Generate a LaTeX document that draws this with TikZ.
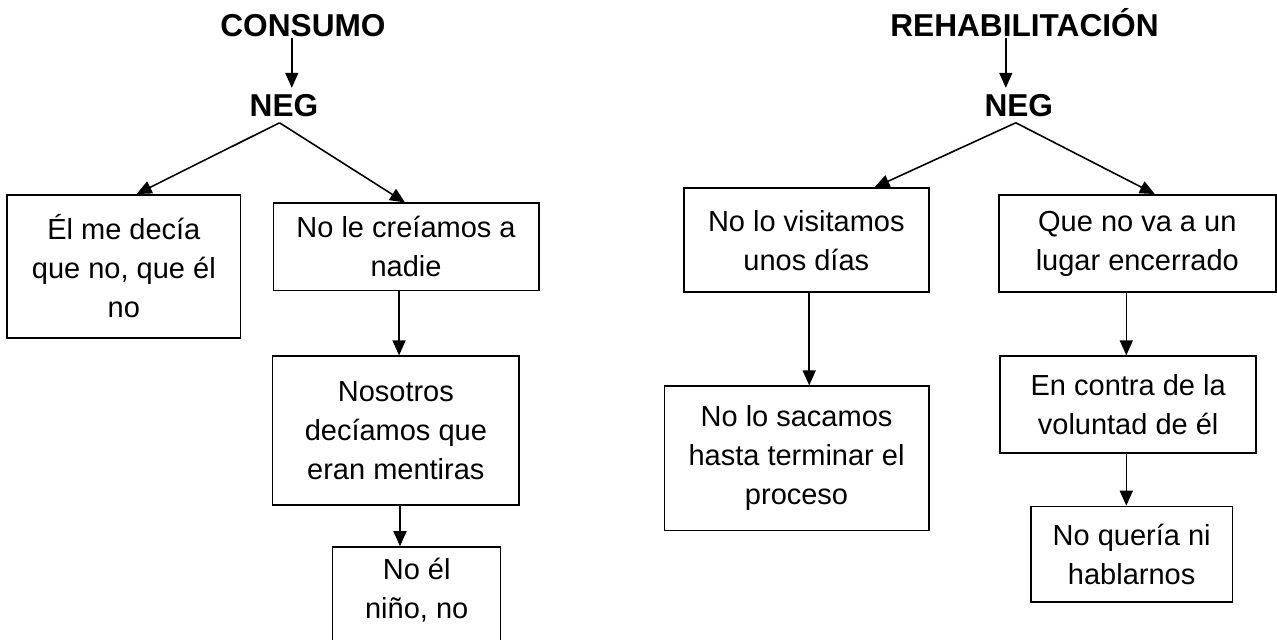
\documentclass[tikz,border=0pt]{standalone}
\usepackage{fontspec}
\setmainfont{Liberation Sans}
\usetikzlibrary{positioning}
\usetikzlibrary{arrows.meta}
\tikzset{>={Triangle[width=2.6mm,length=3mm]}}

\begin{document}
\begin{tikzpicture}[titlenode/.style={font=\fontsize{18}{22}\selectfont\bfseries, inner sep=0pt, anchor=base}, negnode/.style={font=\fontsize{18}{22}\selectfont\bfseries, inner xsep=0pt, inner ysep=0.11cm}, boxnode/.style={draw, line width=0.9pt, align=center, font=\fontsize{16.5}{22.2}\selectfont, inner sep=0.1cm}, line width=0.9pt]

    \useasboundingbox (0,0) rectangle (25.54,-12.78);
    \clip (0,0) rectangle (25.54,-12.78);

    %Nodes
    \node[titlenode](consumo) at (6.06,-0.734){CONSUMO};
    \node[negnode](neg_cons)[below=1.0cm of consumo, xshift=-0.38cm]{NEG};
    \node[boxnode, minimum width=4.674cm, minimum height=2.86cm](decia)[below=1.426cm of neg_cons, xshift=-3.203cm]{Él me decía\\que no, que él\\no};
    \node[boxnode, minimum width=5.31cm, minimum height=1.742cm](creiamos)[below=1.594cm of neg_cons, xshift=2.441cm]{No le creíamos a\\nadie};
    \node[boxnode, minimum width=4.926cm, minimum height=2.974cm](mentiras)[below=1.284cm of creiamos, xshift=-0.204cm]{Nosotros\\decíamos que\\eran mentiras};
    \node[boxnode, minimum width=3.36cm, inner ysep=0.23cm](nino)[below=0.812cm of mentiras, xshift=0.417cm]{No él\\niño, no\\\phantom{n}};

    \node[titlenode](rehab) at (20.49,-0.734){REHABILITACIÓN};
    \node[negnode](neg_rehab)[below=1.0cm of rehab, xshift=-0.114cm]{NEG};
    \node[boxnode, minimum width=4.9cm, minimum height=2.08cm](visitamos)[below=1.294cm of neg_rehab, xshift=-4.25cm]{No lo visitamos\\unos días};
    \node[boxnode, minimum width=5.54cm, minimum height=1.948cm](encerrado)[below=1.426cm of neg_rehab, xshift=2.37cm]{Que no va a un\\lugar encerrado};
    \node[boxnode, minimum width=5.29cm, minimum height=2.886cm](sacamos)[below=1.846cm of visitamos, xshift=-0.195cm]{No lo sacamos\\hasta terminar el\\proceso};
    \node[boxnode, minimum width=5.118cm, minimum height=1.934cm](voluntad)[below=1.246cm of encerrado, xshift=-0.183cm]{En contra de la\\voluntad de él};
    \node[boxnode, minimum width=4.034cm, minimum height=1.912cm](hablarnos)[below=1.04cm of voluntad, xshift=0.07cm]{No quería ni\\hablarnos};

    %Lines
    \draw[->] ([xshift=-0.224cm]consumo.south) -- ([xshift=-0.224cm]consumo.south |- neg_cons.north);
    \draw[->] ([xshift=-0.09cm]neg_cons.south) -- ([xshift=0.256cm]decia.north);
    \draw[->] ([xshift=-0.09cm]neg_cons.south) -- ([xshift=-0.02cm]creiamos.north);
    \draw[->] ([xshift=-0.14cm]creiamos.south) -- ([xshift=-0.14cm]creiamos.south |- mentiras.north);
    \draw[->] ([xshift=0.083cm]mentiras.south) -- ([xshift=0.083cm]mentiras.south |- nino.north);

    \draw[->] ([xshift=-0.374cm]rehab.south) -- ([xshift=-0.374cm]rehab.south |- neg_rehab.north);
    \draw[->] ([xshift=-0.06cm]neg_rehab.south) -- ([xshift=1.364cm]visitamos.north);
    \draw[->] ([xshift=-0.06cm]neg_rehab.south) -- ([xshift=0.35cm]encerrado.north);
    \draw[->] ([xshift=0.058cm]visitamos.south) -- ([xshift=0.058cm]visitamos.south |- sacamos.north);
    \draw[->] ([xshift=-0.22cm]encerrado.south) -- ([xshift=-0.22cm]encerrado.south |- voluntad.north);
    \draw[->] ([xshift=-0.037cm]voluntad.south) -- ([xshift=-0.037cm]voluntad.south |- hablarnos.north);

\end{tikzpicture}
\end{document}
